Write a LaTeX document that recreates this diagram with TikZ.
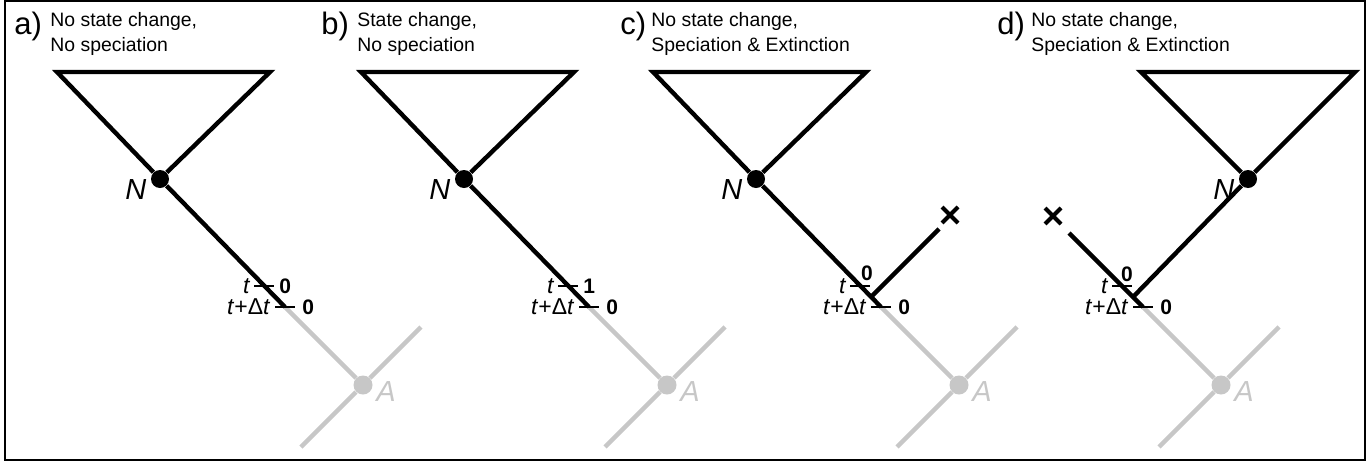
\documentclass[tikz,border=0pt]{standalone}
\usepackage{fontspec}
\setmainfont{Liberation Sans}
\usetikzlibrary{positioning,shapes.misc}

\begin{document}
\begin{tikzpicture}[x=0.5pt, y=-0.5pt,
  branch/.style={line width=2.2pt},
  lost/.style={line width=2.2pt, draw=black!22},
  tick/.style={line width=1.3pt},
  ndot/.style={circle, fill=black, inner sep=0pt, minimum size=9pt},
  adot/.style={circle, fill=black!22, inner sep=0pt, minimum size=9.5pt},
  extinct/.style={cross out, draw, line width=2pt, inner sep=0pt, minimum size=6pt},
  tag/.style={font=\fontsize{15.5}{17}\selectfont, inner sep=0pt, anchor=base west},
  head/.style={font=\fontsize{9.7}{12}\selectfont, inner sep=0pt, anchor=base west},
  nlab/.style={font=\fontsize{14.5}{16}\selectfont\itshape, inner sep=0pt},
  alab/.style={nlab, text=black!22},
  tlab/.style={font=\fontsize{11.5}{13}\selectfont, inner sep=0pt},
  bit/.style={font=\fontsize{10.5}{12}\selectfont\bfseries, inner sep=0pt}]
\useasboundingbox (0,0) rectangle (1369,461);
\draw[line width=0.8pt] (5,1) rectangle (1365,460);
% panel a: no state change, no speciation
\node[tag] (ka) at (14,34) {a)};
\node[head] (ha) at (50,26.5) {No state change,};
\node[head] (ha2) at ([yshift=-12.5pt]ha.base west) {No speciation};
\node[ndot] (na) at (160,179) {};
\coordinate (la) at (57,72);
\coordinate (ra) at (270,72);
\coordinate (ta) at (264,286);
\coordinate (pa) at (285,307);
\node[adot] (aa) at (363,385) {};
\coordinate (hia) at (421,327);
\coordinate (loa) at (301,447);
\draw[branch] (na) -- (la) -- (ra) -- (na);
\draw[branch] (na) -- (pa);
\draw[lost] (pa) -- (aa);
\draw[lost] (aa) -- (hia);
\draw[lost] (aa) -- (loa);
\draw[tick] ([xshift=-5pt]ta) -- ([xshift=5pt]ta);
\draw[tick] ([xshift=-5pt]pa) -- ([xshift=5pt]pa);
\node[nlab, anchor=north east] at ([xshift=-2pt]na.west) {N};
\node[alab, anchor=north west] at ([shift={(1.5pt,2pt)}]aa.east) {A};
\node[tlab, left=7pt of ta] {\itshape t};
\node[tlab, left=7.5pt of pa] {\itshape t\/\upshape+Δ\itshape t};
\node[bit, right=7.5pt of ta] {0};
\node[bit, right=8.5pt of pa] {0};
% panel b: state change, no speciation
\node[tag] (kb) at (321,34) {b)};
\node[head] (hb) at (357,26.5) {State change,};
\node[head] (hb2) at ([yshift=-12.5pt]hb.base west) {No speciation};
\node[ndot] (nb) at (464,179) {};
\coordinate (lb) at (361,72);
\coordinate (rb) at (574,72);
\coordinate (tb) at (568,286);
\coordinate (pb) at (589,307);
\node[adot] (ab) at (667,385) {};
\coordinate (hib) at (725,327);
\coordinate (lob) at (605,447);
\draw[branch] (nb) -- (lb) -- (rb) -- (nb);
\draw[branch] (nb) -- (pb);
\draw[lost] (pb) -- (ab);
\draw[lost] (ab) -- (hib);
\draw[lost] (ab) -- (lob);
\draw[tick] ([xshift=-5pt]tb) -- ([xshift=5pt]tb);
\draw[tick] ([xshift=-5pt]pb) -- ([xshift=5pt]pb);
\node[nlab, anchor=north east] at ([xshift=-2pt]nb.west) {N};
\node[alab, anchor=north west] at ([shift={(1.5pt,2pt)}]ab.east) {A};
\node[tlab, left=7pt of tb] {\itshape t};
\node[tlab, left=7.5pt of pb] {\itshape t\/\upshape+Δ\itshape t};
\node[bit, right=7.5pt of tb] {1};
\node[bit, right=8.5pt of pb] {0};
% panel c: speciation, sister lineage goes extinct on the right
\node[tag] (kc) at (620,34) {c)};
\node[head] (hc) at (651,26.5) {No state change,};
\node[head] (hc2) at ([yshift=-12.5pt]hc.base west) {Speciation \& Extinction};
\node[ndot] (nc) at (756,179) {};
\coordinate (lc) at (653,72);
\coordinate (rc) at (866,72);
\coordinate (tc) at (860,286);
\coordinate (jc) at (871,297);
\coordinate (pc) at (881,307);
\coordinate (ec) at (939,229);
\node[extinct] (xc) at (950,215) {};
\node[adot] (ac) at (959,385) {};
\coordinate (hic) at (1017,327);
\coordinate (loc) at (897,447);
\draw[branch] (nc) -- (lc) -- (rc) -- (nc);
\draw[branch] (nc) -- (pc);
\draw[branch] (jc) -- (ec);
\draw[lost] (pc) -- (ac);
\draw[lost] (ac) -- (hic);
\draw[lost] (ac) -- (loc);
\draw[tick] ([xshift=-5pt]tc) -- ([xshift=5pt]tc);
\draw[tick] ([xshift=-5pt]pc) -- ([xshift=5pt]pc);
\node[nlab, anchor=north east] at ([xshift=-2pt]nc.west) {N};
\node[alab, anchor=north west] at ([shift={(1.5pt,2pt)}]ac.east) {A};
\node[tlab, left=7pt of tc] {\itshape t};
\node[tlab, left=7.5pt of pc] {\itshape t\/\upshape+Δ\itshape t};
\node[bit, above=2.5pt of tc, xshift=3.5pt] {0};
\node[bit, right=8.5pt of pc] {0};
% panel d: speciation, extinct lineage on the left
\node[tag] (kd) at (997,34) {d)};
\node[head] (hd) at (1031,26.5) {No state change,};
\node[head] (hd2) at ([yshift=-12.5pt]hd.base west) {Speciation \& Extinction};
\node[ndot] (nd) at (1248,179) {};
\coordinate (ld) at (1141,72);
\coordinate (rd) at (1355,72);
\coordinate (td) at (1122,286);
\coordinate (jd) at (1133,297);
\coordinate (pd) at (1143,307);
\coordinate (ed) at (1069,233);
\node[extinct] (xd) at (1053,216) {};
\node[adot] (ad) at (1221,385) {};
\coordinate (hid) at (1279,327);
\coordinate (lod) at (1159,447);
\draw[branch] (nd) -- (ld) -- (rd) -- (nd);
\draw[branch] (ed) -- (pd);
\draw[branch] (jd) -- (nd);
\draw[lost] (pd) -- (ad);
\draw[lost] (ad) -- (hid);
\draw[lost] (ad) -- (lod);
\draw[tick] ([xshift=-5pt]td) -- ([xshift=5pt]td);
\draw[tick] ([xshift=-5pt]pd) -- ([xshift=5pt]pd);
\node[nlab, anchor=north east] at ([xshift=-2pt]nd.west) {N};
\node[alab, anchor=north west] at ([shift={(1.5pt,2pt)}]ad.east) {A};
\node[tlab, left=7pt of td] {\itshape t};
\node[tlab, left=7.5pt of pd] {\itshape t\/\upshape+Δ\itshape t};
\node[bit, above=2pt of td, xshift=2.5pt] {0};
\node[bit, right=8.5pt of pd] {0};
\end{tikzpicture}
\end{document}
